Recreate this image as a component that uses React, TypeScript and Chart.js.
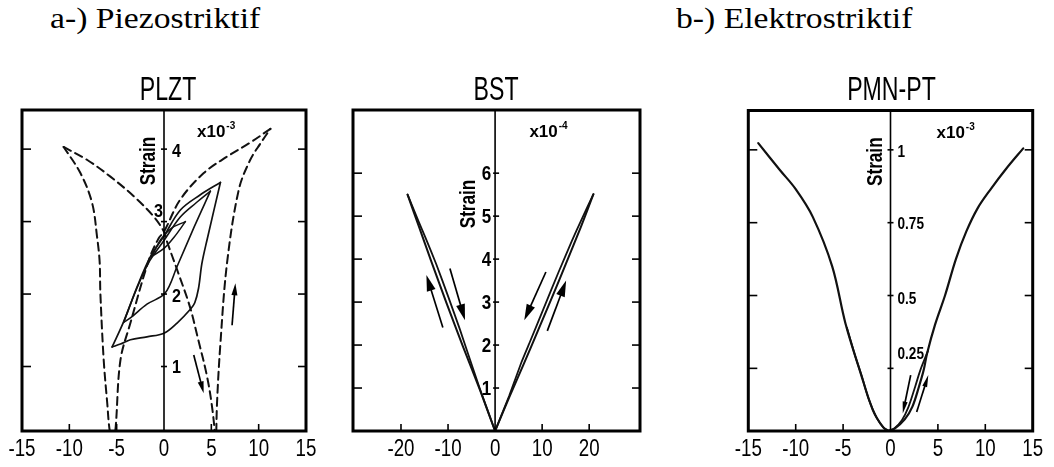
import React, { useEffect, useRef } from "react";
import { Chart, registerables } from "chart.js";
Chart.register(...registerables);

type Pt = [number, number];

// ---------- PLZT (piezostrictive) ----------
const plztXTickLabels = [-15, -10, -5, 0, 5, 10, 15];
const plztYTicks = [1, 2, 3, 4];
// dashed butterfly loop, split at the cusps/valleys
const plztDashA1: Pt[] = [[-10.6, 4.03], [-8.1, 3.85], [-5.66, 3.62], [-3.2, 3.35], [-1.09, 3.07], [0, 2.86], [0.33, 2.72], [1.4, 2.33], [2.7, 1.84], [3.6, 1.38], [4.55, 0.86], [5.1, 0.42], [5.5, -0.08]];
const plztDashA2: Pt[] = [[5.5, -0.08], [5.6, 0.49], [5.96, 1.32], [6.66, 2.43], [7.9, 3.44], [9.1, 3.85], [10.2, 4.08], [11.24, 4.28]];
const plztDashB1: Pt[] = [[11.24, 4.28], [9.1, 4.09], [6.7, 3.9], [4.2, 3.67], [1.7, 3.3], [0, 2.86], [-0.56, 2.77], [-1.6, 2.47], [-3.55, 1.6], [-4.6, 1.09], [-5.1, 0.17], [-5.35, -0.08]];
const plztDashB2: Pt[] = [[-5.35, -0.08], [-5.73, 0.11], [-6.0, 0.5], [-6.37, 1.09], [-6.72, 2.01], [-6.8, 2.45], [-7.07, 2.79], [-7.6, 3.26], [-8.83, 3.67], [-10.6, 4.03]];
// solid minor loops
const plztBigUpper: Pt[] = [[-5.48, 1.27], [-4.26, 1.62], [-2.84, 2.1], [-1.5, 2.5], [0, 2.8], [1.73, 3.16], [3.84, 3.37], [5.96, 3.54]];
const plztBigLower: Pt[] = [[5.96, 3.54], [4.55, 2.75], [4.0, 2.42], [3.65, 2.08], [3.25, 1.88], [2.79, 1.79], [1.38, 1.6], [0, 1.46], [-1.8, 1.41], [-3.55, 1.37], [-4.6, 1.31], [-5.48, 1.27]];
const plztMidUpper: Pt[] = [[-4.26, 1.61], [-2.9, 2.07], [-1.5, 2.46], [0, 2.74], [1.7, 3.06], [3.4, 3.26], [4.9, 3.42]];
const plztMidLower: Pt[] = [[4.9, 3.42], [3.2, 2.93], [1.38, 2.38], [0.1, 2.01], [-1.8, 1.86], [-3.55, 1.67], [-4.26, 1.61]];
const plztSmallUpper: Pt[] = [[-1.3, 2.52], [-0.3, 2.76], [0.8, 2.91], [2.26, 3.0]];
const plztSmallLower: Pt[] = [[2.26, 3.0], [1.1, 2.79], [0, 2.63], [-1.3, 2.52]];
const plztArrows = [[3.14, 1.16, 4.19, 0.63], [7.19, 1.57, 7.54, 2.15]];

// ---------- BST (electrostrictive) ----------
const bstXTickLabels = [-20, -10, 0, 10, 20];
const bstYTicks = [1, 2, 3, 4, 5, 6];
const bstLeftUp: Pt[] = [[0, 0], [-3.2, 0.95], [-6.8, 1.96], [-10.3, 2.97], [-13.6, 3.96], [-16.2, 4.76], [-18.6, 5.5]];
const bstLeftDown: Pt[] = [[-18.6, 5.5], [-16.2, 4.86], [-14.8, 4.5], [-12.5, 3.88], [-10, 3.14], [-7.5, 2.37], [-6, 1.88], [-3.2, 0.97], [0, 0]];
const bstRightUp: Pt[] = [[0, 0], [3, 0.78], [6.1, 1.56], [9.2, 2.36], [12.3, 3.16], [15.3, 3.96], [18.2, 4.74], [20.9, 5.51]];
const bstRightDown: Pt[] = [[20.9, 5.51], [18.2, 4.88], [16.3, 4.42], [13.5, 3.7], [10.5, 2.9], [7.5, 2.1], [5.6, 1.6], [3, 0.82], [0, 0]];
const bstArrows = [[-11.1, 2.41, -14.6, 3.63], [-9.6, 3.78, -6.4, 2.58], [10.8, 3.7, 6.2, 2.58], [11.1, 2.33, 15.1, 3.5]];

// ---------- PMN-PT (electrostrictive) ----------
const pmnXTickLabels = [-15, -10, -5, 0, 5, 10, 15];
const pmnYTicks = [0.25, 0.5, 0.75, 1];
const pmnYTickLabels = ["0.25", "0.5", "0.75", "1"];
const pmnRightUp: Pt[] = [[-0.2, 0.035], [0.5, 0.045], [1.5, 0.075], [2.3, 0.118], [3.0, 0.187], [3.5, 0.244], [3.85, 0.3], [4.7, 0.4], [5.75, 0.5], [6.9, 0.625], [8.0, 0.72], [9.2, 0.8], [10.5, 0.862], [12.2, 0.935], [14.0, 1.005]];
const pmnRightDown: Pt[] = [[3.95, 0.31], [3.15, 0.244], [2.6, 0.187], [1.9, 0.118], [1.2, 0.072], [0.4, 0.044], [-0.2, 0.035]];
const pmnLeftOuter: Pt[] = [[-0.2, 0.035], [-0.8, 0.049], [-1.85, 0.106], [-3.25, 0.244], [-4.75, 0.404], [-6.15, 0.6], [-8.2, 0.77], [-10.0, 0.865], [-11.65, 0.93], [-13.95, 1.023]];
const pmnLeftInner: Pt[] = [[-4.6, 0.39], [-3.7, 0.29], [-3.0, 0.22], [-2.25, 0.14], [-1.45, 0.08], [-0.7, 0.045], [-0.2, 0.035]];
const pmnArrows = [[2.13, 0.227, 1.29, 0.095], [2.76, 0.1, 3.99, 0.227]];

const SANS = '"Liberation Sans", Arial, sans-serif';

type PanelCfg = {
  id: string;
  title: string;
  titleDx: number;
  xLabels: number[];
  bottomTicks: number[];
  yTicks: number[];
  yLabels: string[];
  yLabelSide: string[];
  yLabelDy: number[];
  yLabelSize: number;
  yLabelDxR: number;
  yLabelDxL: number;
  axisTick: [number, number];
  strainDx: number;
  strainCy: number;
  expText: string;
  expDx: number;
  expY: number;
  arrows: number[][];
  headLen: number;
  headW: number;
};

function txt(ctx: CanvasRenderingContext2D, s: string, x: number, y: number, size: number, weight: string, sx: number, align: CanvasTextAlign) {
  ctx.save();
  ctx.translate(x, y);
  ctx.scale(sx, 1);
  ctx.font = `${weight} ${size}px ${SANS}`;
  ctx.textAlign = align;
  ctx.textBaseline = "alphabetic";
  ctx.fillText(s, 0, 0);
  ctx.restore();
}

function panelPlugin(c: PanelCfg) {
  return {
    id: c.id,
    afterDatasetsDraw(chart: any) {
      const ctx: CanvasRenderingContext2D = chart.ctx;
      const a = chart.chartArea;
      const X = (v: number) => chart.scales.x.getPixelForValue(v);
      const Y = (v: number) => chart.scales.y.getPixelForValue(v);
      const seg = (x1: number, y1: number, x2: number, y2: number) => {
        ctx.beginPath();
        ctx.moveTo(x1, y1);
        ctx.lineTo(x2, y2);
        ctx.stroke();
      };
      ctx.save();
      ctx.strokeStyle = "#000";
      ctx.fillStyle = "#000";
      const x0 = X(0);
      // vertical axis at zero field
      ctx.lineWidth = 1.6;
      seg(x0, a.top, x0, a.bottom);
      for (const v of c.yTicks) seg(x0 + c.axisTick[0], Y(v), x0 + c.axisTick[1], Y(v));
      // inward frame ticks
      ctx.lineWidth = 1.6;
      for (const v of c.yTicks) {
        seg(a.left, Y(v), a.left + 9, Y(v));
        seg(a.right - 8, Y(v), a.right, Y(v));
      }
      for (const v of c.bottomTicks) seg(X(v), a.bottom, X(v), a.bottom - 7);
      // frame
      ctx.lineWidth = 3;
      ctx.strokeRect(a.left, a.top, a.right - a.left, a.bottom - a.top);
      // arrows
      ctx.lineWidth = 1.7;
      for (const [ax, ay, bx, by] of c.arrows) {
        const p1x = X(ax), p1y = Y(ay), p2x = X(bx), p2y = Y(by);
        const len = Math.hypot(p2x - p1x, p2y - p1y);
        const ux = (p2x - p1x) / len, uy = (p2y - p1y) / len;
        const bxp = p2x - ux * c.headLen, byp = p2y - uy * c.headLen;
        seg(p1x, p1y, bxp + ux * 2, byp + uy * 2);
        ctx.beginPath();
        ctx.moveTo(p2x, p2y);
        ctx.lineTo(bxp - uy * c.headW / 2, byp + ux * c.headW / 2);
        ctx.lineTo(bxp + uy * c.headW / 2, byp - ux * c.headW / 2);
        ctx.closePath();
        ctx.fill();
      }
      // title
      txt(ctx, c.title, x0 + c.titleDx, 100, 34, "normal", 0.68, "center");
      // x tick labels
      for (const v of c.xLabels) txt(ctx, String(v), X(v), 456, 24, "normal", 0.78, "center");
      // y tick labels
      c.yTicks.forEach((v, i) => {
        const right = c.yLabelSide[i] === "r";
        const yy = Y(v) + c.yLabelSize * 0.36 + c.yLabelDy[i];
        txt(ctx, c.yLabels[i], right ? x0 + c.yLabelDxR : x0 + c.yLabelDxL, yy, c.yLabelSize, "bold", 0.85, right ? "left" : "right");
      });
      // "Strain" label
      ctx.save();
      ctx.translate(x0 + c.strainDx, c.strainCy);
      ctx.rotate(-Math.PI / 2);
      ctx.scale(0.78, 1);
      ctx.font = `bold 22px ${SANS}`;
      ctx.textAlign = "center";
      ctx.textBaseline = "alphabetic";
      ctx.fillText("Strain", 0, 0);
      ctx.restore();
      // exponent label
      const ex = x0 + c.expDx;
      ctx.font = `bold 17px ${SANS}`;
      const w = ctx.measureText("x10").width;
      txt(ctx, "x10", ex, c.expY, 17, "bold", 1, "left");
      txt(ctx, c.expText, ex + w + 1, c.expY - 8, 10, "bold", 1, "left");
      ctx.restore();
    },
  };
}

function mk(pts: Pt[], width: number, dash: number[] = [], tension = 0.35) {
  return {
    data: pts.map(([x, y]) => ({ x, y })),
    borderColor: "#111",
    borderWidth: width,
    borderDash: dash,
    pointRadius: 0,
    fill: false,
    tension,
    borderCapStyle: "round",
    borderJoinStyle: "round",
  };
}

type Spec = {
  left: number;
  width: number;
  pad: { left: number; right: number; top: number; bottom: number };
  xMin: number; xMax: number; yMin: number; yMax: number;
  datasets: any[];
  cfg: PanelCfg;
};

const HEIGHT = 467;

const specs: Spec[] = [
  {
    left: 0, width: 330,
    pad: { left: 22, right: 24, top: 110, bottom: 36 },
    xMin: -15, xMax: 15, yMin: 0.11, yMax: 4.54,
    datasets: [
      mk(plztDashA1, 2, [8, 5]), mk(plztDashA2, 2, [8, 5]), mk(plztDashB1, 2, [8, 5]), mk(plztDashB2, 2, [8, 5]),
      mk(plztBigUpper, 1.7), mk(plztBigLower, 1.7), mk(plztMidUpper, 1.6), mk(plztMidLower, 1.6),
      mk(plztSmallUpper, 1.5), mk(plztSmallLower, 1.5),
    ],
    cfg: {
      id: "plzt", title: "PLZT", titleDx: 4,
      xLabels: plztXTickLabels, bottomTicks: [-10, -5, 5, 10],
      yTicks: plztYTicks, yLabels: plztYTicks.map(String),
      yLabelSide: ["r", "r", "l", "r"], yLabelDy: [0, 1, -11, 1], yLabelSize: 19, yLabelDxR: 8, yLabelDxL: -1,
      axisTick: [-3, 3], strainDx: -8.6, strainCy: 161,
      expText: "-3", expDx: 33, expY: 136.7,
      arrows: plztArrows, headLen: 12, headW: 6,
    },
  },
  {
    left: 330, width: 330,
    pad: { left: 23, right: 20, top: 110, bottom: 36 },
    xMin: -30.2, xMax: 30.8, yMin: 0, yMax: 7.47,
    datasets: [mk(bstLeftUp, 2, [], 0.15), mk(bstLeftDown, 1.8, [], 0.15), mk(bstRightUp, 2, [], 0.15), mk(bstRightDown, 1.8, [], 0.15)],
    cfg: {
      id: "bst", title: "BST", titleDx: 1,
      xLabels: bstXTickLabels, bottomTicks: [-20, -10, 10, 20],
      yTicks: bstYTicks, yLabels: bstYTicks.map(String),
      yLabelSide: ["l", "l", "l", "l", "l", "l"], yLabelDy: [0, 0, 0, 0, 0, 0], yLabelSize: 20, yLabelDxR: 8, yLabelDxL: -4,
      axisTick: [-2, 4], strainDx: -20, strainCy: 204,
      expText: "-4", expDx: 34.3, expY: 136.7,
      arrows: bstArrows, headLen: 16, headW: 9,
    },
  },
  {
    left: 680, width: 374,
    pad: { left: 68.3, right: 21.3, top: 110.5, bottom: 36 },
    xMin: -15, xMax: 15, yMin: 0.035, yMax: 1.135,
    datasets: [mk(pmnRightUp, 2.2), mk(pmnRightDown, 1.8), mk(pmnLeftOuter, 2.2), mk(pmnLeftInner, 1.8)],
    cfg: {
      id: "pmn", title: "PMN-PT", titleDx: 1,
      xLabels: pmnXTickLabels, bottomTicks: [-10, -5, 5, 10],
      yTicks: pmnYTicks, yLabels: pmnYTickLabels,
      yLabelSide: ["r", "r", "r", "r"], yLabelDy: [-15, 3, 1, 1], yLabelSize: 16, yLabelDxR: 7, yLabelDxL: -4,
      axisTick: [-3, 3], strainDx: -9, strainCy: 161.7,
      expText: "-3", expDx: 46, expY: 138.3,
      arrows: pmnArrows, headLen: 12, headW: 5,
    },
  },
];

function Panel({ spec }: { spec: Spec }) {
  const ref = useRef<HTMLCanvasElement | null>(null);
  useEffect(() => {
    if (!ref.current) return;
    const chart = new Chart(ref.current, {
      type: "line",
      data: { datasets: spec.datasets as any },
      options: {
        responsive: false,
        animation: false,
        events: [],
        layout: { padding: spec.pad },
        scales: {
          x: { type: "linear", display: false, min: spec.xMin, max: spec.xMax },
          y: { type: "linear", display: false, min: spec.yMin, max: spec.yMax },
        },
        plugins: { legend: { display: false }, tooltip: { enabled: false } },
      },
      plugins: [panelPlugin(spec.cfg) as any],
    });
    return () => chart.destroy();
  }, [spec]);
  return (
    <canvas
      ref={ref}
      width={spec.width}
      height={HEIGHT}
      style={{ position: "absolute", left: spec.left, top: 0, width: spec.width, height: HEIGHT }}
    />
  );
}

const headStyle: React.CSSProperties = {
  position: "absolute",
  top: 4,
  fontFamily: '"Liberation Serif", "Times New Roman", serif',
  fontSize: 29,
  lineHeight: "29px",
  whiteSpace: "nowrap",
  color: "#000",
  transform: "scaleX(1.16)",
  transformOrigin: "left top",
};

export default function App() {
  return (
    <div style={{ position: "absolute", left: 0, top: 0, width: 1054, height: HEIGHT, background: "#fff", overflow: "hidden" }}>
      <div style={{ ...headStyle, left: 50 }}>a-) Piezostriktif</div>
      <div style={{ ...headStyle, left: 676 }}>b-) Elektrostriktif</div>
      {specs.map((s) => (
        <Panel key={s.cfg.id} spec={s} />
      ))}
    </div>
  );
}
